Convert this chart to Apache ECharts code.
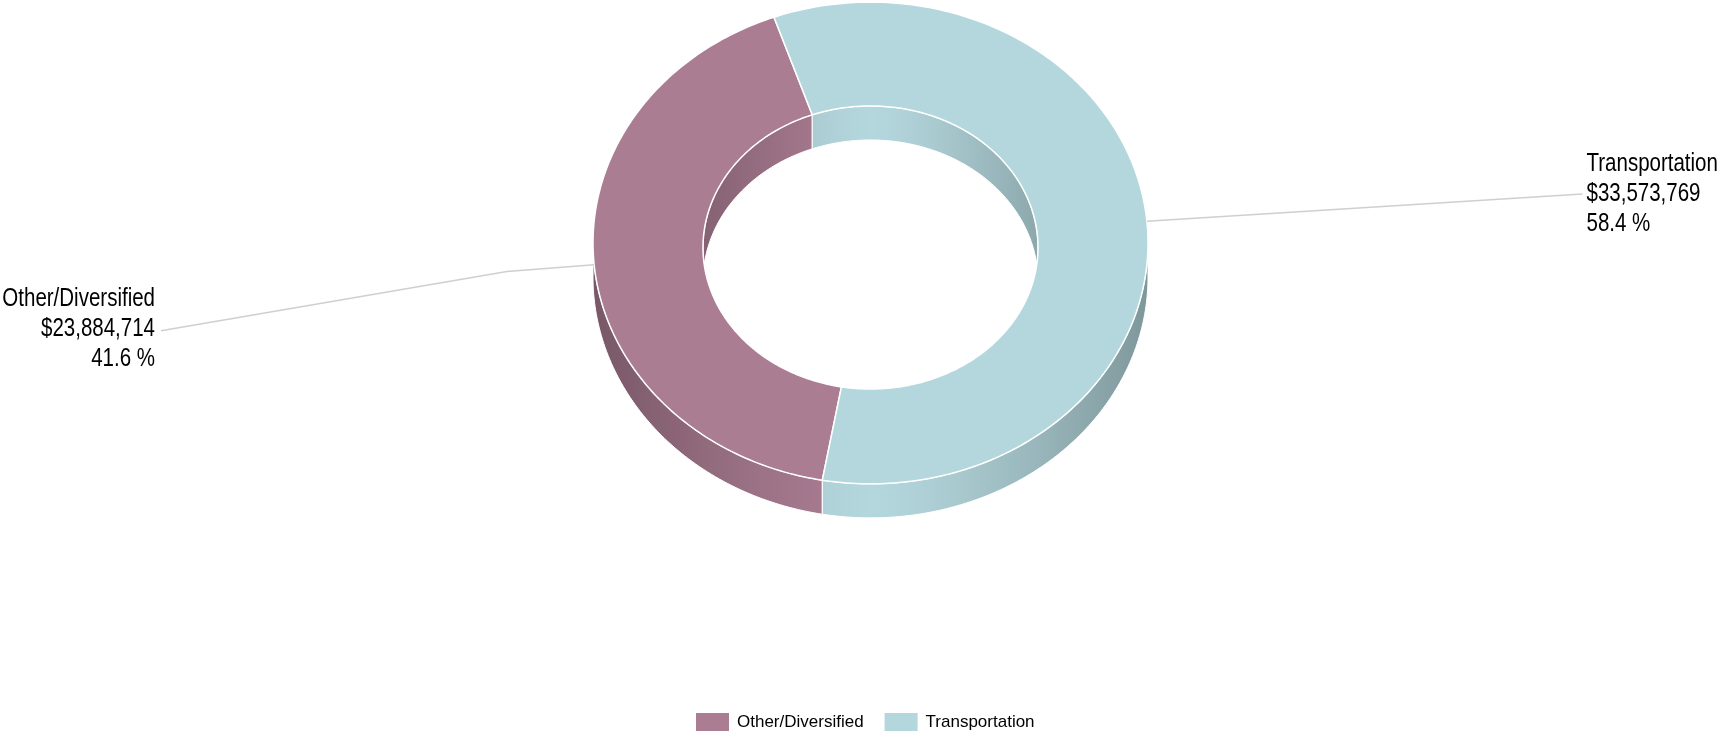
<!DOCTYPE html>
<html><head><meta charset="utf-8">
<script src="https://cdn.jsdelivr.net/npm/echarts@6/dist/echarts.min.js"></script>
<style>html,body{margin:0;padding:0;background:#fff}#c{width:1718px;height:732px}</style>
</head><body><div id="c"></div>
<script>
// ---- data ----
const categories = ['Other/Diversified', 'Transportation'];
const values = [23884714, 33573769];
const colors = ['#ab7d93', '#b4d7dd'];

// ---- layout / style settings ----
const CX = 870.5;
const OUT = {r: 277.5, cy: 243, sy: 0.868};   // outer rim of top face
const INN = {r: 167.5, cy: 247.5, sy: 0.845}; // inner rim of top face
const DEPTH = 34;                  // thickness of the ring
const START = 100;                 // start angle (deg, screen, clockwise from +x)
const LABEL_DX = 712;              // horizontal distance of label anchor from centre
const LABEL_NUDGE = {left: 32, right: 7};
const FONT = '"Liberation Sans", Arial, Helvetica, sans-serif';
const LABEL_SIZE = 25, LABEL_NARROW = 0.82, LEGEND_SIZE = 17;

const total = values.reduce((a, b) => a + b, 0);
const rad = d => d * Math.PI / 180;
function P(ring, a, dz, extra) {
  const r = ring.r + (extra || 0);
  return [CX + r * Math.cos(rad(a)), ring.cy + r * ring.sy * Math.sin(rad(a)) + (dz || 0)];
}
function arc(ring, a0, a1, dz) {
  const pts = [], n = Math.max(2, Math.ceil(Math.abs(a1 - a0)));
  for (let k = 0; k <= n; k++) pts.push(P(ring, a0 + (a1 - a0) * k / n, dz));
  return pts;
}
function hexRgb(h) { return [1, 3, 5].map(i => parseInt(h.substr(i, 2), 16)); }
function shade(h, f) { const c = hexRgb(h).map(v => Math.round(Math.min(255, v * f))); return 'rgb(' + c.join(',') + ')'; }
function grad(h, x0, x1, amp) {
  const stops = [];
  for (let k = 0; k <= 20; k++) {
    const t = k / 20, f = 1 - amp * Math.pow(Math.abs(2 * t - 1), 1.3);
    stops.push({offset: t, color: shade(h, f)});
  }
  return {type: 'linear', x: x0, y: 0, x2: x1, y2: 0, global: true, colorStops: stops};
}
function intersect(a0, a1, lo, hi) {
  const out = [];
  for (let k = -1; k <= 2; k++) {
    const s = Math.max(a0, lo + 360 * k), e = Math.min(a1, hi + 360 * k);
    if (e > s) out.push([s, e]);
  }
  return out;
}
// angles of each slice, from the data
const spans = []; let acc = START;
values.forEach(v => { const a = v / total * 360; spans.push([acc, acc + a]); acc += a; });

function renderItem(params, api) {
  const i = params.dataIndex;
  const v = api.value(0);
  const [a0, a1] = spans[i];
  const col = colors[i];
  const children = [];
  // inner wall (far half of the hole)
  intersect(a0, a1, 180, 360).forEach(([s, e]) => {
    children.push({type: 'polygon', z2: 1,
      shape: {points: arc(INN, s, e, 0).concat(arc(INN, e, s, DEPTH))},
      style: {fill: grad(col, CX - INN.r, CX + INN.r, 0.22), stroke: '#fff', lineWidth: 1}});
  });
  // outer side wall (front half)
  intersect(a0, a1, 0, 180).forEach(([s, e]) => {
    children.push({type: 'polygon', z2: 2,
      shape: {points: arc(OUT, s, e, 0).concat(arc(OUT, e, s, DEPTH))},
      style: {fill: grad(col, CX - OUT.r, CX + OUT.r, 0.3), stroke: '#fff', lineWidth: 1}});
  });
  // top face
  children.push({type: 'polygon', z2: 10,
    shape: {points: arc(OUT, a0, a1, 0).concat(arc(INN, a1, a0, 0))},
    style: {fill: col, stroke: '#fff', lineWidth: 1.5, lineJoin: 'round'}});
  // leader line + label
  const mid = (a0 + a1) / 2;
  const right = Math.cos(rad(mid)) >= 0;
  const p1 = P(OUT, mid, 0), p2 = P(OUT, mid, 0, 87.5);
  const ex = right ? CX + LABEL_DX : CX - LABEL_DX + 2.5;
  const slope = OUT.sy * Math.tan(rad(mid));
  const ey = OUT.cy + (ex - CX) * slope + (right ? LABEL_NUDGE.right : LABEL_NUDGE.left);
  const linePts = right ? [p1, [ex, ey]] : [p1, p2, [ex, ey]];
  children.push({type: 'polyline', z2: 20,
    shape: {points: linePts},
    style: {stroke: '#cfcfcf', lineWidth: 1.5, fill: null}});
  const txt = categories[i] + '\n$' + v.toLocaleString('en-US') + '\n' + (v / total * 100).toFixed(1) + ' %';
  children.push({type: 'text', z2: 20,
    x: right ? ex + 4 : ex - 6, y: right ? ey : ey - 2, scaleX: LABEL_NARROW,
    style: {text: txt, x: 0, y: 0,
      align: right ? 'left' : 'right', verticalAlign: 'middle',
      fontSize: LABEL_SIZE, lineHeight: 30, fontFamily: FONT, fill: '#000'}});
  return {type: 'group', children};
}

const chart = echarts.init(document.getElementById('c'));
chart.setOption({
  animation: false,
  backgroundColor: '#fff',
  color: colors,
  legend: {
    data: categories, left: 696, top: 713, icon: 'rect', padding: 0,
    itemWidth: 33, itemHeight: 18, itemGap: 21,
    textStyle: {fontSize: LEGEND_SIZE, fontFamily: FONT, color: '#000', padding: [0, 0, 0, 3], lineHeight: 18}
  },
  series: [
    {
      type: 'custom', name: 'donut', coordinateSystem: 'none', silent: true,
      data: values.map((v, i) => ({name: categories[i], value: v})),
      renderItem
    },
    {
      // supplies legend entries only
      type: 'pie', name: 'legend', silent: true, center: [-500, -500], radius: [0, 1],
      label: {show: false}, labelLine: {show: false},
      data: values.map((v, i) => ({name: categories[i], value: v, itemStyle: {color: colors[i]}}))
    }
  ]
});
</script></body></html>
